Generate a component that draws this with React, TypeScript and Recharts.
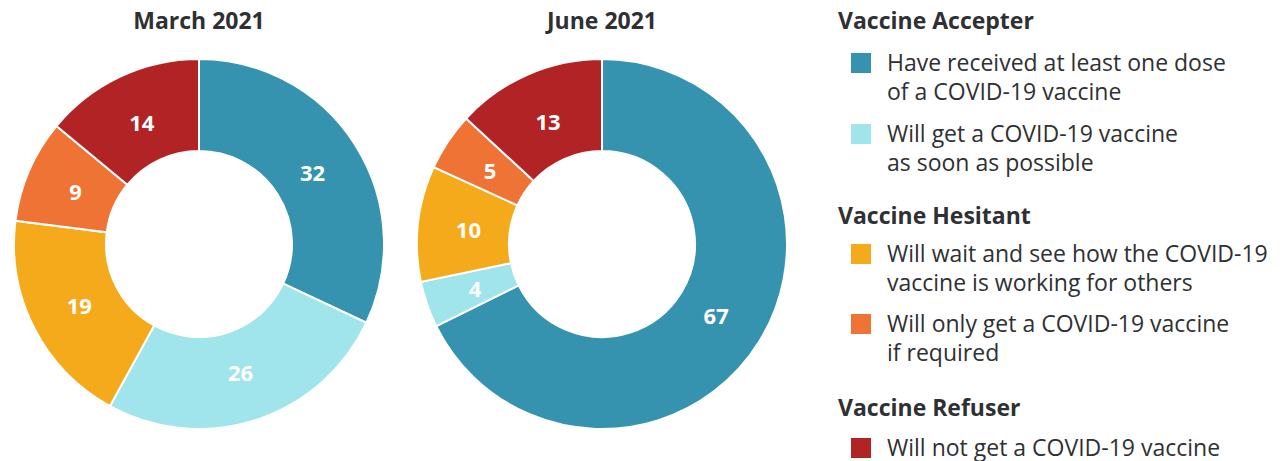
import { PieChart, Pie, Cell } from "recharts";

const categories = [
  "Have received at least one dose of a COVID-19 vaccine",
  "Will get a COVID-19 vaccine as soon as possible",
  "Will wait and see how the COVID-19 vaccine is working for others",
  "Will only get a COVID-19 vaccine if required",
  "Will not get a COVID-19 vaccine",
];

const legendLines = [
  ["Have received at least one dose", "of a COVID-19 vaccine"],
  ["Will get a COVID-19 vaccine", "as soon as possible"],
  ["Will wait and see how the COVID-19", "vaccine is working for others"],
  ["Will only get a COVID-19 vaccine", "if required"],
  ["Will not get a COVID-19 vaccine"],
];

const groups = ["Vaccine Accepter", "Vaccine Hesitant", "Vaccine Refuser"];

const march2021 = [32, 26, 19, 9, 14];
const june2021 = [67, 4, 10, 5, 13];

const COLORS = ["#3593b0", "#a0e4ec", "#f5aa1c", "#ee7335", "#b22325"];

const FONT = "'Open Sans', 'Noto Sans', sans-serif";
const TEXT = "#2f3033";

const toRows = (values: number[]) =>
  categories.map((name, i) => ({ name, value: values[i] }));

const RAD = Math.PI / 180;

function renderLabel(props: any) {
  const { cx, cy, midAngle, innerRadius, outerRadius, value } = props;
  const r = innerRadius + (outerRadius - innerRadius) * 0.45;
  const x = cx + r * Math.cos(-midAngle * RAD);
  const y = cy + r * Math.sin(-midAngle * RAD);
  return (
    <text
      x={x}
      y={y}
      fill="#ffffff"
      textAnchor="middle"
      dominantBaseline="central"
      fontFamily={FONT}
      fontWeight={700}
      fontSize={22}
    >
      {value}
    </text>
  );
}

// legend layout: centre y of first line for each header / item
const headerY = [20, 215, 407];
const itemY = [62, 133, 253, 323, 447];

function App() {
  return (
    <div
      style={{
        position: "absolute",
        left: 0,
        top: 0,
        width: 1280,
        height: 461,
        fontFamily: FONT,
        color: TEXT,
      }}
    >
      <PieChart
        width={800}
        height={461}
        margin={{ top: 0, right: 0, bottom: 0, left: 0 }}
        style={{ position: "absolute", left: 0, top: 0 }}
      >
        <Pie
          data={toRows(march2021)}
          dataKey="value"
          nameKey="name"
          cx={199}
          cy={244}
          innerRadius={93}
          outerRadius={185}
          startAngle={90}
          endAngle={-270}
          stroke="#ffffff"
          strokeWidth={2}
          label={renderLabel}
          labelLine={false}
          isAnimationActive={false}
        >
          {march2021.map((_, i) => (
            <Cell key={i} fill={COLORS[i]} />
          ))}
        </Pie>
        <Pie
          data={toRows(june2021)}
          dataKey="value"
          nameKey="name"
          cx={602}
          cy={244}
          innerRadius={93}
          outerRadius={185}
          startAngle={90}
          endAngle={-270}
          stroke="#ffffff"
          strokeWidth={2}
          label={renderLabel}
          labelLine={false}
          isAnimationActive={false}
        >
          {june2021.map((_, i) => (
            <Cell key={i} fill={COLORS[i]} />
          ))}
        </Pie>
      </PieChart>

      {[
        { text: "March 2021", x: 199 },
        { text: "June 2021", x: 602 },
      ].map((t) => (
        <div
          key={t.text}
          style={{
            position: "absolute",
            left: t.x - 100,
            width: 200,
            top: 6,
            textAlign: "center",
            fontWeight: 700,
            fontSize: 23,
            lineHeight: "28px",
          }}
        >
          {t.text}
        </div>
      ))}

      {groups.map((g, i) => (
        <div
          key={g}
          style={{
            position: "absolute",
            left: 838,
            top: headerY[i] - 14,
            fontWeight: 700,
            fontSize: 23,
            lineHeight: "28px",
            whiteSpace: "nowrap",
          }}
        >
          {g}
        </div>
      ))}

      {legendLines.map((lines, i) => (
        <div key={i}>
          <div
            style={{
              position: "absolute",
              left: 851,
              top: itemY[i] - 9,
              width: 20,
              height: 20,
              background: COLORS[i],
            }}
          />
          <div
            style={{
              position: "absolute",
              left: 887,
              top: itemY[i] - 14.5,
              fontSize: 23,
              lineHeight: "29px",
              whiteSpace: "nowrap",
            }}
          >
            {lines.map((l) => (
              <div key={l}>{l}</div>
            ))}
          </div>
        </div>
      ))}
    </div>
  );
}

export default App;
